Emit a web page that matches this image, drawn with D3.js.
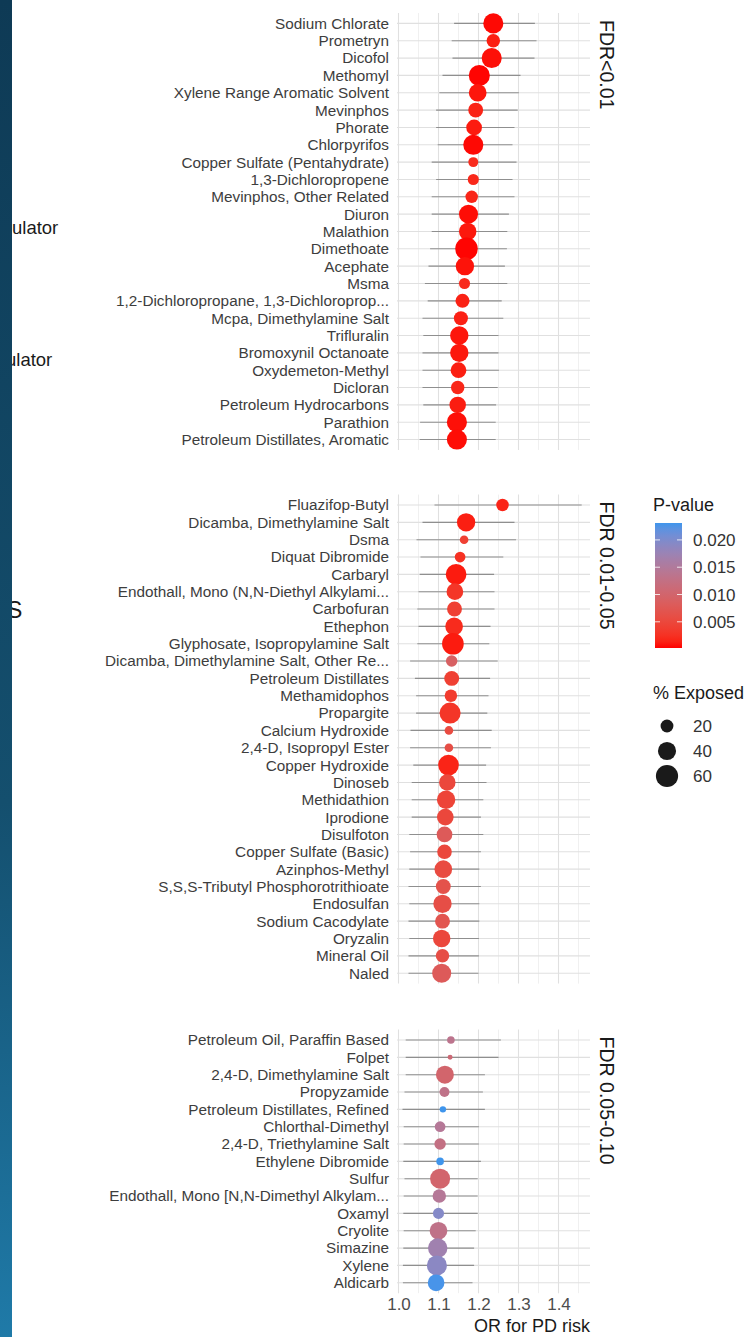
<!DOCTYPE html>
<html>
<head>
<meta charset="utf-8">
<script src="https://cdn.jsdelivr.net/npm/d3@7/dist/d3.min.js"></script>
<style>
  html, body { margin: 0; padding: 0; background: #ffffff; }
  svg { display: block; font-family: "Liberation Sans", Arial, Helvetica, sans-serif; }
</style>
</head>
<body>
<svg id="chart" width="746" height="1337"></svg>
<script>
// ---- FDR < 0.01 ----
const fdr1Names = ["Sodium Chlorate","Prometryn","Dicofol","Methomyl","Xylene Range Aromatic Solvent","Mevinphos","Phorate","Chlorpyrifos","Copper Sulfate (Pentahydrate)","1,3-Dichloropropene","Mevinphos, Other Related","Diuron","Malathion","Dimethoate","Acephate","Msma","1,2-Dichloropropane, 1,3-Dichloroprop...","Mcpa, Dimethylamine Salt","Trifluralin","Bromoxynil Octanoate","Oxydemeton-Methyl","Dicloran","Petroleum Hydrocarbons","Parathion","Petroleum Distillates, Aromatic"];
const fdr1OR   = [1.237,1.237,1.233,1.202,1.198,1.193,1.189,1.187,1.187,1.187,1.183,1.175,1.173,1.170,1.166,1.165,1.160,1.156,1.152,1.152,1.150,1.148,1.148,1.146,1.146];
const fdr1Low  = [1.139,1.133,1.135,1.110,1.102,1.094,1.094,1.098,1.083,1.094,1.083,1.083,1.083,1.079,1.075,1.066,1.073,1.060,1.062,1.060,1.060,1.060,1.062,1.054,1.053];
const fdr1High = [1.341,1.345,1.340,1.305,1.301,1.298,1.290,1.285,1.295,1.285,1.290,1.276,1.272,1.271,1.266,1.272,1.258,1.262,1.250,1.250,1.251,1.248,1.244,1.243,1.243];
const fdr1Exposed = [49,22,49,54,38,27,30,49,12,15,19,44,37,62,41,15,24,24,41,41,30,22,33,49,49];
const fdr1P    = [0.0004,0.0012,0.0006,0.0003,0.0008,0.0015,0.0010,0.0004,0.0020,0.0018,0.0016,0.0005,0.0009,0.0003,0.0007,0.0019,0.0014,0.0013,0.0008,0.0009,0.0012,0.0017,0.0011,0.0006,0.0005];

// ---- FDR 0.01-0.05 ----
const fdr2Names = ["Fluazifop-Butyl","Dicamba, Dimethylamine Salt","Dsma","Diquat Dibromide","Carbaryl","Endothall, Mono (N,N-Diethyl Alkylami...","Carbofuran","Ethephon","Glyphosate, Isopropylamine Salt","Dicamba, Dimethylamine Salt, Other Re...","Petroleum Distillates","Methamidophos","Propargite","Calcium Hydroxide","2,4-D, Isopropyl Ester","Copper Hydroxide","Dinoseb","Methidathion","Iprodione","Disulfoton","Copper Sulfate (Basic)","Azinphos-Methyl","S,S,S-Tributyl Phosphorotrithioate","Endosulfan","Sodium Cacodylate","Oryzalin","Mineral Oil","Naled"];
const fdr2OR   = [1.260,1.169,1.164,1.154,1.144,1.141,1.140,1.139,1.136,1.133,1.133,1.131,1.129,1.126,1.126,1.125,1.122,1.119,1.117,1.115,1.115,1.112,1.112,1.110,1.110,1.108,1.110,1.108];
const fdr2Low  = [1.090,1.060,1.045,1.055,1.053,1.050,1.047,1.050,1.047,1.029,1.041,1.044,1.044,1.030,1.029,1.037,1.033,1.033,1.033,1.027,1.029,1.027,1.025,1.027,1.025,1.027,1.025,1.025];
const fdr2High = [1.458,1.290,1.294,1.262,1.239,1.240,1.240,1.230,1.227,1.248,1.229,1.225,1.222,1.233,1.231,1.219,1.220,1.212,1.206,1.212,1.206,1.202,1.206,1.202,1.202,1.201,1.201,1.200];
const fdr2Exposed = [19,41,9,14,52,34,27,38,57,16,27,19,54,9,9,52,33,41,34,30,26,38,27,41,27,37,22,44];
const fdr2P    = [0.0015,0.0012,0.0040,0.0025,0.0010,0.0030,0.0040,0.0020,0.0010,0.0090,0.0040,0.0035,0.0030,0.0055,0.0060,0.0015,0.0050,0.0045,0.0050,0.0080,0.0050,0.0055,0.0065,0.0060,0.0070,0.0050,0.0060,0.0080];

// ---- FDR 0.05-0.10 ----
const fdr3Names = ["Petroleum Oil, Paraffin Based","Folpet","2,4-D, Dimethylamine Salt","Propyzamide","Petroleum Distillates, Refined","Chlorthal-Dimethyl","2,4-D, Triethylamine Salt","Ethylene Dibromide","Sulfur","Endothall, Mono [N,N-Dimethyl Alkylam...","Oxamyl","Cryolite","Simazine","Xylene","Aldicarb"];
const fdr3OR   = [1.131,1.129,1.116,1.115,1.111,1.104,1.104,1.104,1.104,1.102,1.100,1.100,1.098,1.096,1.094];
const fdr3Low  = [1.018,1.018,1.018,1.015,1.010,1.013,1.013,1.012,1.015,1.013,1.012,1.013,1.012,1.011,1.011];
const fdr3High = [1.256,1.250,1.216,1.211,1.216,1.201,1.201,1.206,1.198,1.198,1.198,1.193,1.189,1.189,1.185];
const fdr3Exposed = [7,3,39,12,5,14,16,7,49,22,15,38,46,49,34];
const fdr3P    = [0.0135,0.0110,0.0100,0.0130,0.0231,0.0145,0.0125,0.0231,0.0100,0.0145,0.0195,0.0130,0.0170,0.0190,0.0228];

const stripLabels = ["FDR<0.01", "FDR 0.01-0.05", "FDR 0.05-0.10"];
const xTicks = [1.0, 1.1, 1.2, 1.3, 1.4];
const xMinor = [1.05, 1.15, 1.25, 1.35, 1.45];
const pTicks = [0.005, 0.010, 0.015, 0.020];
const sizeBreaks = [20, 40, 60];

// ---- layout ----
const W = 746, H = 1337;
const panelLeft = 397, panelRight = 590;
const rowStep = 17.34;
const panelTops = [13, 494.6, 1029.6];

const svg = d3.select("#chart");
svg.append("rect").attr("width", W).attr("height", H).attr("fill", "#ffffff");

const x = d3.scaleLinear().domain([1.0, 1.4]).range([398.5, 558.5]);

const allP = fdr1P.concat(fdr2P, fdr3P);
const pExtent = [0.0002, d3.max(allP)];
const color = d3.scaleLinear().domain(pExtent).range(["#ff0000", "#3f95ec"]).interpolate(d3.interpolateLab);
const size = d3.scaleSqrt().domain([0, 70]).range([0, 12]);

const groups = [
  {names: fdr1Names, or: fdr1OR, lo: fdr1Low, hi: fdr1High, exp: fdr1Exposed, p: fdr1P},
  {names: fdr2Names, or: fdr2OR, lo: fdr2Low, hi: fdr2High, exp: fdr2Exposed, p: fdr2P},
  {names: fdr3Names, or: fdr3OR, lo: fdr3Low, hi: fdr3High, exp: fdr3Exposed, p: fdr3P}
];

groups.forEach((g, gi) => {
  const top = panelTops[gi];
  const bottom = top + rowStep * (g.names.length - 1 + 1.2);
  const y = d3.scalePoint().domain(g.names).range([top, bottom]).padding(0.6);
  const panel = svg.append("g");

  // grid
  panel.selectAll(".vminor").data(xMinor).join("line")
    .attr("x1", d => x(d)).attr("x2", d => x(d))
    .attr("y1", top).attr("y2", bottom)
    .attr("stroke", "#ececec").attr("stroke-width", 0.8);
  panel.selectAll(".vmajor").data(xTicks).join("line")
    .attr("x1", d => x(d)).attr("x2", d => x(d))
    .attr("y1", top).attr("y2", bottom)
    .attr("stroke", "#e0e0e0").attr("stroke-width", 1.1);
  panel.selectAll(".hgrid").data(g.names).join("line")
    .attr("x1", panelLeft).attr("x2", panelRight)
    .attr("y1", d => y(d)).attr("y2", d => y(d))
    .attr("stroke", "#e0e0e0").attr("stroke-width", 1.1);

  // y axis labels
  const ax = panel.append("g").attr("transform", `translate(${panelLeft},0)`)
    .call(d3.axisLeft(y).tickSize(0).tickPadding(8));
  ax.select(".domain").remove();
  ax.selectAll("text").attr("font-size", 15.3).attr("fill", "#3d3d3d")
    .attr("font-family", "'Liberation Sans', Arial, sans-serif");

  const rows = g.names.map((n, i) => ({name: n, or: g.or[i], lo: g.lo[i], hi: g.hi[i], exp: g.exp[i], p: g.p[i]}));

  // confidence intervals
  panel.selectAll(".ci").data(rows).join("line")
    .attr("x1", d => x(d.lo)).attr("x2", d => x(d.hi))
    .attr("y1", d => y(d.name)).attr("y2", d => y(d.name))
    .attr("stroke", "#808080").attr("stroke-opacity", 0.85).attr("stroke-width", 1.1);

  // points
  panel.selectAll(".pt").data(rows).join("circle")
    .attr("cx", d => x(d.or)).attr("cy", d => y(d.name))
    .attr("r", d => size(d.exp))
    .attr("fill", d => color(d.p));

  // facet strip label
  panel.append("text")
    .attr("transform", `translate(607,${top + 7}) rotate(90)`)
    .attr("dy", "0.35em")
    .attr("font-size", 19.5).attr("fill", "#1a1a1a")
    .text(stripLabels[gi]);

  if (gi === groups.length - 1) {
    const xa = svg.append("g").attr("transform", `translate(0,${bottom})`)
      .call(d3.axisBottom(x).tickValues(xTicks).tickFormat(d3.format(".1f")).tickSize(0).tickPadding(5));
    xa.select(".domain").remove();
    xa.selectAll("text").attr("font-size", 17).attr("fill", "#4d4d4d")
      .attr("font-family", "'Liberation Sans', Arial, sans-serif");
    svg.append("text")
      .attr("x", panelRight).attr("y", 1332)
      .attr("text-anchor", "end").attr("font-size", 18).attr("fill", "#1a1a1a")
      .text("OR for PD risk");
  }
});

// ---- legend: P-value colourbar ----
const leg = svg.append("g");
leg.append("text").attr("x", 653).attr("y", 511).attr("font-size", 18).attr("fill", "#1a1a1a").text("P-value");
const barX = 655, barW = 27, barTop = 523, barBottom = 648;
const pY = d3.scaleLinear().domain(pExtent).range([barBottom, barTop]);
const defs = svg.append("defs");
const grad = defs.append("linearGradient").attr("id", "pgrad")
  .attr("x1", 0).attr("y1", 1).attr("x2", 0).attr("y2", 0);
d3.range(0, 1.0001, 0.05).forEach(t => {
  grad.append("stop").attr("offset", t)
    .attr("stop-color", color(pExtent[0] + t * (pExtent[1] - pExtent[0])));
});
leg.append("rect").attr("x", barX).attr("y", barTop).attr("width", barW).attr("height", barBottom - barTop)
  .attr("fill", "url(#pgrad)");
pTicks.forEach(v => {
  const yy = pY(v);
  leg.append("line").attr("x1", barX).attr("x2", barX + 5).attr("y1", yy).attr("y2", yy)
    .attr("stroke", "#ffffff").attr("stroke-opacity", 0.8);
  leg.append("line").attr("x1", barX + barW - 5).attr("x2", barX + barW).attr("y1", yy).attr("y2", yy)
    .attr("stroke", "#ffffff").attr("stroke-opacity", 0.8);
  leg.append("text").attr("x", 693).attr("y", yy).attr("dy", "0.36em")
    .attr("font-size", 17).attr("fill", "#333333").text(d3.format(".3f")(v));
});

// ---- legend: % exposed ----
leg.append("text").attr("x", 653).attr("y", 699).attr("font-size", 18).attr("fill", "#1a1a1a").text("% Exposed");
sizeBreaks.forEach((v, i) => {
  const yy = 726 + i * 25;
  leg.append("circle").attr("cx", 667).attr("cy", yy).attr("r", size(v)).attr("fill", "#1a1a1a");
  leg.append("text").attr("x", 693).attr("y", yy).attr("dy", "0.36em")
    .attr("font-size", 17).attr("fill", "#333333").text(v);
});

// ---- left edge: fragments of neighbouring text beside the dark band ----
const side = svg.append("g").attr("fill", "#1a1a1a");
side.append("text").attr("x", 12).attr("y", 228).attr("dy", "0.35em")
  .attr("font-size", 18.5).text("ulator");
side.append("text").attr("x", 6).attr("y", 360).attr("dy", "0.35em")
  .attr("font-size", 18.5).text("ulator");
side.append("text").attr("x", 7).attr("y", 610).attr("dy", "0.35em")
  .attr("font-size", 23).text("S");

const bandGrad = defs.append("linearGradient").attr("id", "band")
  .attr("x1", 0).attr("y1", 0).attr("x2", 0).attr("y2", 1);
bandGrad.append("stop").attr("offset", 0).attr("stop-color", "#0e3a55");
bandGrad.append("stop").attr("offset", 0.6).attr("stop-color", "#144f6e");
bandGrad.append("stop").attr("offset", 1).attr("stop-color", "#1f7aa8");
svg.append("rect").attr("x", 0).attr("y", 0).attr("width", 12).attr("height", H).attr("fill", "url(#band)");
</script>
</body>
</html>
